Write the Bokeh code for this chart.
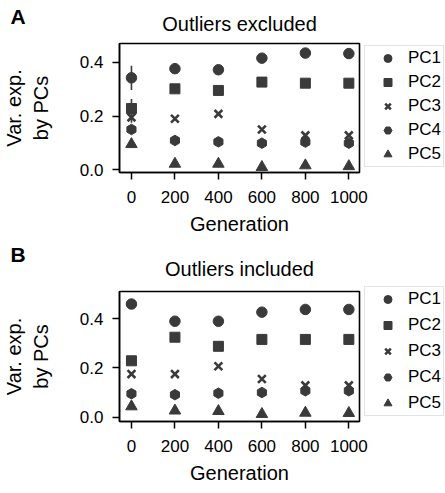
from bokeh.plotting import figure
from bokeh.models import (ColumnDataSource, Legend, LegendItem, FixedTicker,
                          PrintfTickFormatter, Whisker, Range1d, Title)
from bokeh.layouts import column
from bokeh.embed import file_html
from bokeh.resources import INLINE
import math

# ---------------- data ----------------
generations = [0, 200, 400, 600, 800, 1000]
pc_names = ["PC1", "PC2", "PC3", "PC4", "PC5"]
x_ticks = [0, 200, 400, 600, 800, 1000]
y_ticks = [0.0, 0.2, 0.4]

# Panel A: outliers excluded
excl_pc1 = [0.342, 0.376, 0.372, 0.415, 0.434, 0.432]
excl_pc2 = [0.228, 0.301, 0.295, 0.326, 0.322, 0.322]
excl_pc3 = [0.195, 0.190, 0.208, 0.150, 0.128, 0.128]
excl_pc4 = [0.150, 0.109, 0.104, 0.099, 0.103, 0.099]
excl_pc5 = [0.095, 0.022, 0.022, 0.010, 0.016, 0.013]
excl_err1 = [0.045, 0.004, 0.004, 0.003, 0.003, 0.003]
excl_err2 = [0.035, 0.004, 0.004, 0.003, 0.003, 0.003]
excl_err3 = [0.020, 0.004, 0.004, 0.003, 0.003, 0.003]
excl_err4 = [0.015, 0.003, 0.003, 0.003, 0.003, 0.003]
excl_err5 = [0.010, 0.003, 0.003, 0.002, 0.002, 0.002]

# Panel B: outliers included
incl_pc1 = [0.460, 0.390, 0.390, 0.427, 0.438, 0.438]
incl_pc2 = [0.229, 0.325, 0.288, 0.316, 0.316, 0.316]
incl_pc3 = [0.175, 0.175, 0.207, 0.155, 0.129, 0.129]
incl_pc4 = [0.095, 0.091, 0.097, 0.100, 0.107, 0.107]
incl_pc5 = [0.043, 0.026, 0.024, 0.012, 0.017, 0.016]
incl_err1 = [0.015, 0.004, 0.004, 0.003, 0.003, 0.003]
incl_err2 = [0.012, 0.004, 0.004, 0.003, 0.003, 0.003]
incl_err3 = [0.008, 0.004, 0.004, 0.003, 0.003, 0.003]
incl_err4 = [0.006, 0.003, 0.003, 0.003, 0.003, 0.003]
incl_err5 = [0.005, 0.003, 0.003, 0.002, 0.002, 0.002]

# ---------------- style ----------------
FONT = "Liberation Sans"
COL = "#3a3a3a"
markers = [
    dict(marker="circle", size=10.5),
    dict(marker="square", size=10),
    dict(marker="x", size=11, line_width=2.6),
    dict(marker="hex", size=10.5, angle=math.pi / 2),
    dict(marker="triangle", size=11.5),
]


def make_panel(letter, title, series, errors, y_lo, y_hi, frame_h, top, bottom,
               title_standoff, letter_standoff, leg_spacing):
    p = figure(frame_width=240, frame_height=frame_h,
               min_border_left=118, min_border_right=79,
               min_border_top=top, min_border_bottom=bottom,
               x_range=Range1d(-55, 1049), y_range=Range1d(y_lo, y_hi),
               output_backend="svg", toolbar_location=None)
    p.grid.visible = False
    p.outline_line_color = "black"
    p.outline_line_width = 1.6
    p.outline_line_alpha = 1.0

    for ax in (p.xaxis[0], p.yaxis[0]):
        ax.axis_line_color = "black"
        ax.axis_line_width = 1.5
        ax.major_tick_line_color = "black"
        ax.major_tick_line_width = 1.5
        ax.major_tick_out = 7
        ax.major_tick_in = 0
        ax.minor_tick_line_color = None
        ax.major_label_text_font = FONT
        ax.major_label_text_font_size = "17px"
        ax.major_label_text_color = "black"
        ax.axis_label_text_font = FONT
        ax.axis_label_text_font_size = "20px"
        ax.axis_label_text_font_style = "normal"
        ax.axis_label_text_color = "black"

    p.xaxis.ticker = FixedTicker(ticks=x_ticks)
    p.yaxis.ticker = FixedTicker(ticks=y_ticks)
    p.yaxis.formatter = PrintfTickFormatter(format="%.1f")
    p.xaxis.major_label_standoff = 11
    p.yaxis.major_label_standoff = 9
    p.xaxis.axis_label = "Generation"
    p.xaxis.axis_label_standoff = 7
    p.yaxis.axis_label = "Var. exp.\nby PCs"
    p.yaxis.axis_label_standoff = 25

    items = []
    for name, vals, errs, mk in zip(pc_names, series, errors, markers):
        src = ColumnDataSource(dict(
            x=generations, y=vals,
            upper=[v + e for v, e in zip(vals, errs)],
            lower=[v - e for v, e in zip(vals, errs)]))
        w = Whisker(source=src, base="x", upper="upper", lower="lower",
                    line_color=COL, line_width=1.6,
                    upper_head=None, lower_head=None)
        p.add_layout(w)
        r = p.scatter("x", "y", source=src, fill_color=COL, line_color=COL, **mk)
        items.append(LegendItem(label=name, renderers=[r]))

    legend = Legend(items=items, location=(5, 5))
    legend.label_text_font = FONT
    legend.label_text_font_size = "17px"
    legend.label_text_color = "black"
    legend.glyph_width = 41
    legend.glyph_height = 20
    legend.label_height = 20
    legend.label_standoff = 0
    legend.spacing = leg_spacing
    legend.padding = 2
    legend.margin = 0
    legend.border_line_color = "#c8c8c8"
    legend.border_line_width = 1.5
    legend.background_fill_color = "white"
    legend.background_fill_alpha = 1.0
    p.add_layout(legend, "right")

    p.title.text = ""
    t_main = Title(text=title, align="center", standoff=title_standoff,
                   text_font=FONT, text_font_size="20px",
                   text_font_style="normal", text_color="black")
    p.add_layout(t_main, "above")
    t_letter = Title(text=letter, align="left", offset=-109,
                     standoff=letter_standoff,
                     text_font=FONT, text_font_size="21px",
                     text_font_style="bold", text_color="black")
    p.add_layout(t_letter, "above")
    return p


pA = make_panel("A", "Outliers excluded",
                [excl_pc1, excl_pc2, excl_pc3, excl_pc4, excl_pc5],
                [excl_err1, excl_err2, excl_err3, excl_err4, excl_err5],
                -0.01, 0.4695, 129, 43, 69, 18, -52, 4)
pB = make_panel("B", "Outliers included",
                [incl_pc1, incl_pc2, incl_pc3, incl_pc4, incl_pc5],
                [incl_err1, incl_err2, incl_err3, incl_err4, incl_err5],
                -0.018, 0.511, 130, 50, 63, 23, -43, 6)

layout = column(pA, pB, spacing=0)
open("out.html", "w").write(file_html(layout, INLINE))
